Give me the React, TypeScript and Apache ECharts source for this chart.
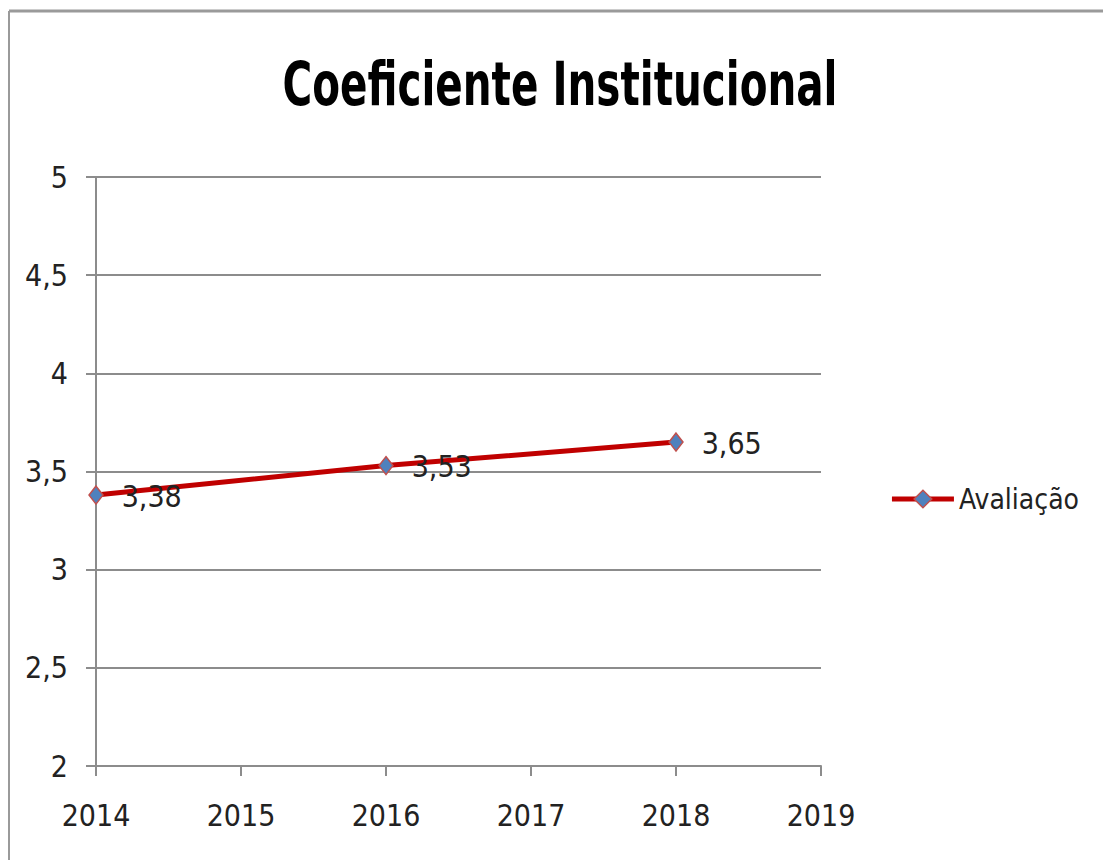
import React, { useEffect, useRef } from "react";
import * as echarts from "echarts";

const title = "Coeficiente Institucional";
const seriesName = "Avaliação";
const years = [2014, 2016, 2018];
const values = [3.38, 3.53, 3.65];
const xMin = 2014;
const xMax = 2019;
const yMin = 2;
const yMax = 5;
const yStep = 0.5;

const FONT = "'Liberation Sans Narrow', 'DejaVu Sans Condensed', 'Arial Narrow', sans-serif";
const fmt = (v: number) => String(v).replace(".", ",");

export default function App() {
  const ref = useRef<HTMLDivElement>(null);
  useEffect(() => {
    if (!ref.current) return;
    const chart = echarts.init(ref.current, null, { renderer: "svg" });
    const data = years.map((y, i) => [y, values[i]]);
    chart.setOption({
      animation: false,
      backgroundColor: "#ffffff",
      legend: {
        right: 19,
        top: 480,
        orient: "vertical",
        itemWidth: 62,
        itemHeight: 22,
        itemGap: 6,
        lineStyle: { width: 5, color: "#C00000" },
        itemStyle: { color: "#4F81BD", borderColor: "#C0504D", borderWidth: 1.5 },
        textStyle: { fontFamily: FONT, fontSize: 28, color: "#222" },
        data: [seriesName],
      },
      grid: { left: 96, right: 282, top: 177, bottom: 94 },
      xAxis: {
        type: "value",
        min: xMin,
        max: xMax,
        interval: 1,
        axisLine: { show: true, lineStyle: { color: "#8c8c8c", width: 2 } },
        axisTick: { show: true, length: 10, lineStyle: { color: "#8c8c8c", width: 2 } },
        splitLine: { show: false },
        axisLabel: {
          formatter: (v: number) => String(v),
          margin: 34,
          fontFamily: FONT,
          fontSize: 30,
          color: "#222",
        },
      },
      yAxis: {
        type: "value",
        min: yMin,
        max: yMax,
        interval: yStep,
        axisLine: { show: true, lineStyle: { color: "#8c8c8c", width: 2 } },
        axisTick: { show: true, length: 10, lineStyle: { color: "#8c8c8c", width: 2 } },
        splitLine: { show: true, lineStyle: { color: "#8c8c8c", width: 2 } },
        axisLabel: {
          formatter: (v: number) => fmt(v),
          margin: 28,
          fontFamily: FONT,
          fontSize: 30,
          color: "#222",
        },
      },
      graphic: [
        { type: "line", shape: { x1: 9, y1: 11, x2: 1103, y2: 11 }, style: { stroke: "#9a9a9a", lineWidth: 3 } },
        { type: "line", shape: { x1: 9, y1: 11, x2: 9, y2: 860 }, style: { stroke: "#9a9a9a", lineWidth: 2 } },
        {
          type: "text",
          x: 560,
          y: 85,
          scaleX: 0.75,
          style: {
            text: title,
            fontFamily: FONT,
            fontWeight: "bold",
            fontSize: 60,
            fill: "#000",
            textAlign: "center",
            textVerticalAlign: "middle",
          },
        },
      ],
      series: [
        {
          name: seriesName,
          type: "line",
          data,
          symbol: "diamond",
          symbolSize: [14, 18],
          lineStyle: { color: "#C00000", width: 5 },
          itemStyle: { color: "#4F81BD", borderColor: "#C0504D", borderWidth: 1.5 },
          label: {
            show: true,
            position: "right",
            distance: 18,
            offset: [0, 1],
            formatter: (p: any) => fmt(p.value[1]),
            fontFamily: FONT,
            fontSize: 30,
            color: "#222",
          },
        },
      ],
    });
    return () => chart.dispose();
  }, []);
  return (
    <div
      ref={ref}
      style={{ position: "fixed", left: 0, top: 0, width: 1103, height: 860 }}
    />
  );
}
